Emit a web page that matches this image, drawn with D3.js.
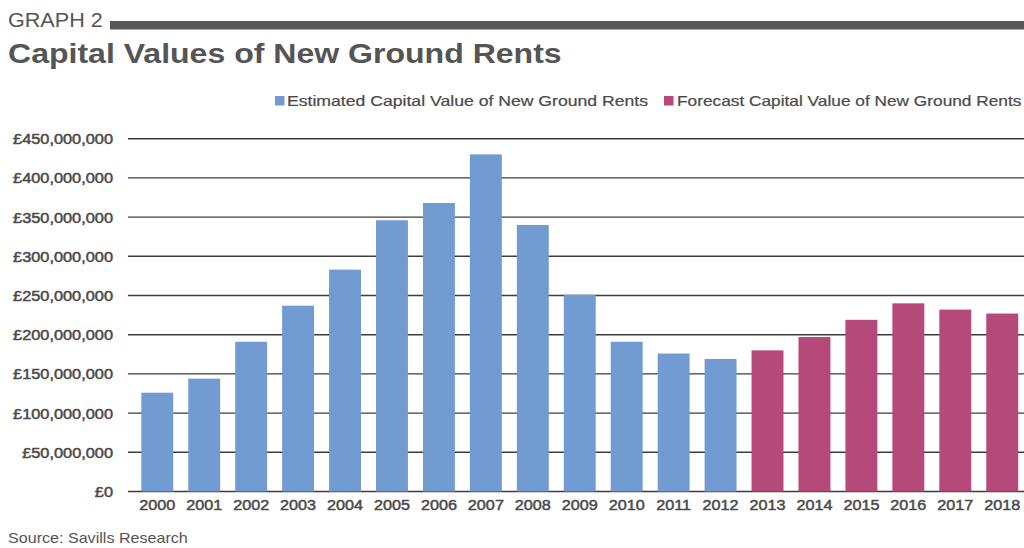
<!DOCTYPE html>
<html>
<head>
<meta charset="utf-8">
<script src="https://cdn.jsdelivr.net/npm/d3@7"></script>
<style>
  html, body { margin: 0; padding: 0; background: #ffffff; }
  svg { display: block; }
  text { font-family: "Liberation Sans", Arial, Helvetica, sans-serif; }
</style>
</head>
<body>
<svg id="chart" width="1024" height="548"></svg>
<script>
// Capital values of new ground rents, in pounds
const years = ["2000","2001","2002","2003","2004","2005","2006","2007","2008","2009",
               "2010","2011","2012","2013","2014","2015","2016","2017","2018"];
const estimatedYears = ["2000","2001","2002","2003","2004","2005","2006","2007","2008","2009","2010","2011","2012"];
const estimatedValues = [126e6, 144e6, 191e6, 237e6, 283e6, 346e6, 368e6, 430e6, 340e6, 251e6, 191e6, 176e6, 169e6];
const forecastYears = ["2013","2014","2015","2016","2017","2018"];
const forecastValues = [180e6, 197e6, 219e6, 240e6, 232e6, 227e6];
const yTicks = [0, 50e6, 100e6, 150e6, 200e6, 250e6, 300e6, 350e6, 400e6, 450e6];
const seriesNames = ["Estimated Capital Value of New Ground Rents", "Forecast Capital Value of New Ground Rents"];
const seriesColors = ["#719bd1", "#b5497a"];

const svg = d3.select("#chart");
const ink = "#555555";

// text helper: places text at (x,y) and widens glyphs horizontally
function label(parent, x, y, str, opts) {
  const o = Object.assign({size: 14, weight: "normal", anchor: "start", sx: 1.15, fill: ink, stroke: 0}, opts || {});
  const t = parent.append("text")
    .attr("transform", `translate(${x},${y}) scale(${o.sx},1)`)
    .attr("text-anchor", o.anchor)
    .attr("font-size", o.size)
    .attr("font-weight", o.weight)
    .attr("fill", o.fill)
    .text(str);
  if (o.stroke) t.attr("stroke", o.fill).attr("stroke-width", o.stroke);
  return t;
}

// header
label(svg, 8, 27, "GRAPH 2", {size: 20, sx: 1.08});
svg.append("rect").attr("x", 110).attr("y", 21).attr("width", 914).attr("height", 8.5).attr("fill", "#575757");
label(svg, 8, 63, "Capital Values of New Ground Rents", {size: 28, weight: "bold", sx: 1.145});

// scales
const x = d3.scaleBand().domain(years).range([133.8, 1025.7]).paddingInner(0.32).paddingOuter(0.16);
const y = d3.scaleLinear().domain([0, 450e6]).range([491.5, 138.7]);

// gridlines
svg.append("g").selectAll("line").data(yTicks).join("line")
  .attr("x1", 128).attr("x2", 1024)
  .attr("y1", d => y(d)).attr("y2", d => y(d))
  .attr("stroke", "#3c3c3c").attr("stroke-width", 1.4);

// y axis labels
const fmt = d => "£" + d3.format(",")(d);
const yl = svg.append("g");
yTicks.forEach(t => label(yl, 113, y(t) + 5.5, fmt(t), {size: 15, anchor: "end", sx: 1.09, fill: "#4a4a4a", stroke: 0.5}));

// bars
const bars = svg.append("g");
bars.selectAll("rect.est").data(estimatedYears.map((yr, i) => ({yr, v: estimatedValues[i]})))
  .join("rect").attr("class", "est")
  .attr("x", d => x(d.yr)).attr("width", x.bandwidth())
  .attr("y", d => y(d.v)).attr("height", d => y(0) - y(d.v))
  .attr("fill", seriesColors[0]);
bars.selectAll("rect.fc").data(forecastYears.map((yr, i) => ({yr, v: forecastValues[i]})))
  .join("rect").attr("class", "fc")
  .attr("x", d => x(d.yr)).attr("width", x.bandwidth())
  .attr("y", d => y(d.v)).attr("height", d => y(0) - y(d.v))
  .attr("fill", seriesColors[1]);

// x axis labels
const xl = svg.append("g");
years.forEach(yr => label(xl, x(yr) + x.bandwidth() / 2, 509.5, yr, {size: 15, anchor: "middle", sx: 1.08, fill: "#4a4a4a", stroke: 0.5}));

// legend
const lg = svg.append("g");
svg.append("rect").attr("x", 275).attr("y", 96).attr("width", 9.5).attr("height", 9.5).attr("fill", seriesColors[0]);
label(lg, 287, 105.5, seriesNames[0], {size: 14, sx: 1.26, fill: "#4a4a4a", stroke: 0.2});
svg.append("rect").attr("x", 664).attr("y", 96).attr("width", 9.5).attr("height", 9.5).attr("fill", seriesColors[1]);
label(lg, 677, 105.5, seriesNames[1], {size: 14, sx: 1.235, fill: "#4a4a4a", stroke: 0.2});

// source note
label(svg, 8, 543, "Source: Savills Research", {size: 14, sx: 1.15});
</script>
</body>
</html>
